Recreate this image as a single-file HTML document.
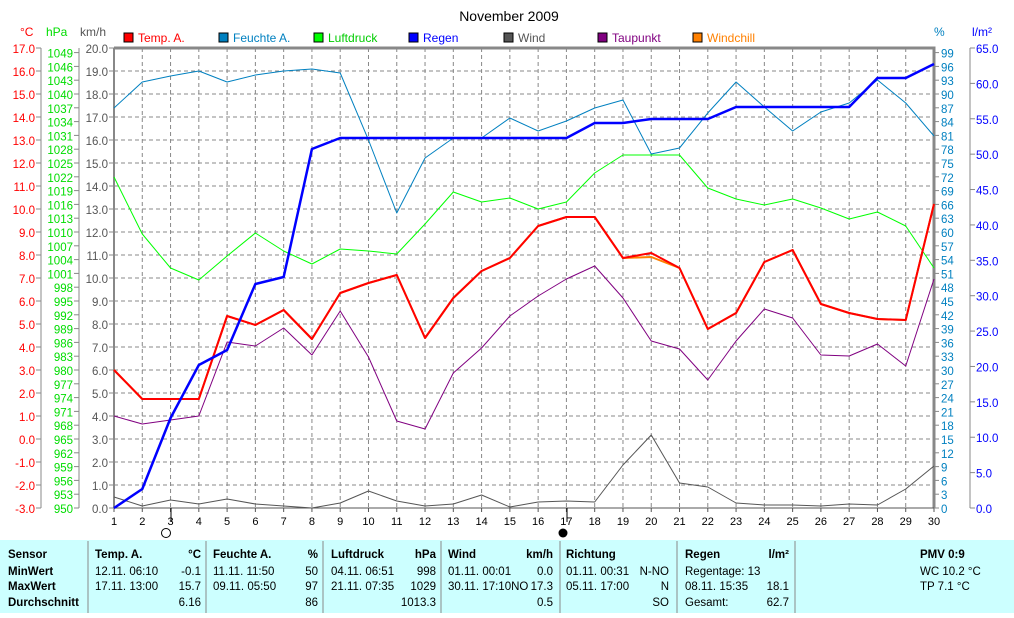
<!DOCTYPE html>
<html><head><meta charset="utf-8"><style>
body{margin:0;background:#fff;width:1014px;height:613px;overflow:hidden;font-family:"Liberation Sans",sans-serif}
svg text{font-family:"Liberation Sans",sans-serif}
</style></head><body>
<svg id="s" width="1014" height="613" xmlns="http://www.w3.org/2000/svg"></svg>
<script>
const s=document.getElementById('s');let h='';
const X=d=>114+(d-1)*820/29;
h+='<rect x="0" y="540" width="1014" height="73" fill="#ccffff"/>';
h+='<text x="509" y="21" font-size="14" text-anchor="middle" fill="#000">November 2009</text>';
for(let d=2;d<30;d++)h+=`<line x1="${X(d)}" y1="48" x2="${X(d)}" y2="508" stroke="#888" stroke-dasharray="4,3"/>`;
for(let i=1;i<20;i++){let y=48+i*23;h+=`<line x1="114" y1="${y}" x2="934" y2="${y}" stroke="#888" stroke-dasharray="4,3"/>`;}
h+='<path d="M114,48H934V508" fill="none" stroke="#888" stroke-width="3"/>';
h+='<line x1="114" y1="48" x2="114" y2="508" stroke="#888" stroke-width="2"/>';
h+='<line x1="114" y1="508" x2="934" y2="508" stroke="#555"/>';
for(let d=1;d<=30;d++){h+=`<line x1="${X(d)}" y1="508" x2="${X(d)}" y2="512" stroke="#555"/><text x="${X(d)}" y="525" font-size="11" text-anchor="middle">${d}</text>`;}
h+='<line x1="171" y1="508" x2="171" y2="522" stroke="#000"/><line x1="567" y1="508" x2="567" y2="522" stroke="#000"/>';
h+='<circle cx="166" cy="533" r="4.5" fill="none" stroke="#000"/><circle cx="563" cy="533" r="4.5" fill="#000"/>';
h+='<line x1="41" y1="48" x2="41" y2="508" stroke="#888"/><line x1="79" y1="48" x2="79" y2="508" stroke="#888"/>';
const F='font-size="11.5"';
for(let i=0;i<=20;i++){let y=48+i*23;
h+=`<line x1="36" y1="${y}" x2="41" y2="${y}" stroke="#888"/><text x="35" y="${y+5}" ${F} fill="#f00" text-anchor="end">${(17-i).toFixed(1)}</text>`;
h+=`<line x1="109" y1="${y}" x2="114" y2="${y}" stroke="#888"/><text x="108" y="${y+5}" ${F} fill="#555" text-anchor="end">${(20-i).toFixed(1)}</text>`;}
for(let p=950;p<=1049;p+=3){let y=508-(p-950)*4.6;
h+=`<line x1="74" y1="${y}" x2="79" y2="${y}" stroke="#888"/><text x="73" y="${y+5}" ${F} fill="#0d0" text-anchor="end">${p}</text>`;}
h+='<line x1="970" y1="48" x2="970" y2="508" stroke="#888"/>';
for(let p=0;p<=99;p+=3){let y=508-p*4.6;
h+=`<line x1="934" y1="${y}" x2="939" y2="${y}" stroke="#888"/><text x="941" y="${y+5}" ${F} fill="#0080c0">${p}</text>`;}
for(let r=0;r<=65;r+=5){let y=508-r*460/65;
h+=`<line x1="970" y1="${y}" x2="975" y2="${y}" stroke="#888"/><text x="976" y="${y+5}" ${F} fill="#00f">${r.toFixed(1)}</text>`;}
h+='<text x="20" y="36" font-size="12" fill="#f00">°C</text><text x="46" y="36" font-size="12" fill="#0d0">hPa</text><text x="80" y="36" font-size="12" fill="#555">km/h</text>';
h+='<text x="934" y="36" font-size="12" fill="#0080c0">%</text><text x="972" y="36" font-size="12" fill="#00f">l/m²</text>';
const lg=[[124,'#f00','Temp. A.'],[219,'#0080c0','Feuchte A.'],[314,'#0f0','Luftdruck'],[409,'#00f','Regen'],[504,'#555','Wind'],[598,'#800080','Taupunkt'],[693,'#ff8000','Windchill']];
for(const[x,c,t]of lg)h+=`<rect x="${x}" y="33" width="9" height="9" fill="${c}" stroke="#000"/><text x="${x+14}" y="42" font-size="12" fill="${c=='#555'?'#555':c=='#0f0'?'#0c0':c}">${t}</text>`;
function line(ys,c,w){h+=`<polyline fill="none" stroke="${c}" stroke-width="${w}" stroke-linejoin="round" points="${ys.map((y,i)=>X(i+1)+','+y).join(' ')}"/>`;}
const temp=[370,399,399,399,316,325,310,339,293,283,275,338,298,271,258,226,217,217,258,253,268,329,313,262,250,304,313,319,320,204];
const wc=temp.slice();wc[19]=257;
line([497,506,500,504,499,504,506,508,503,491,501,506,504,495,507,502,501,502,465,435,483,487,503,505,505,506,504,505,489,466],'#555',1);
line([416,424,420,416,342,346,328,355,311,357,421,429,373,348,316,296,279,266,298,341,349,380,341,309,318,355,356,344,366,279],'#800080',1);
line([177,234,268,280,256,233,251,264,249,251,254,224,192,202,198,209,202,173,155,155,155,188,199,205,199,208,219,212,226,268],'#0f0',1);
line([108,82,76,71,82,75,71,69,73,140,213,158,138,138,118,131,121,108,100,154,148,113,82,107,131,112,103,80,103,136],'#0080c0',1);
line(wc,'#ff8000',2);
line(temp,'#f00',2);
line([508,489,418,365,350,284,277,149,138,138,138,138,138,138,138,138,138,123,123,119,119,119,107,107,107,107,107,78,78,64],'#00f',2.5);
for(const x of [88,206,323,441,560,677,795])h+=`<line x1="${x}" y1="541" x2="${x}" y2="613" stroke="#888"/>`;
const T=(x,y,t,b,a)=>h+=`<text x="${x}" y="${y}" font-size="11.5" ${b?'font-weight="bold"':''} ${a?'text-anchor="end"':''}>${t}</text>`;
const R=[558,575,590,606];
['Sensor','MinWert','MaxWert','Durchschnitt'].forEach((t,i)=>T(8,R[i],t,1));
T(95,R[0],'Temp. A.',1);T(201,R[0],'°C',1,1);T(95,R[1],'12.11.  06:10');T(201,R[1],'-0.1',0,1);T(95,R[2],'17.11.  13:00');T(201,R[2],'15.7',0,1);T(201,R[3],'6.16',0,1);
T(213,R[0],'Feuchte A.',1);T(318,R[0],'%',1,1);T(213,R[1],'11.11.  11:50');T(318,R[1],'50',0,1);T(213,R[2],'09.11.  05:50');T(318,R[2],'97',0,1);T(318,R[3],'86',0,1);
T(331,R[0],'Luftdruck',1);T(436,R[0],'hPa',1,1);T(331,R[1],'04.11.  06:51');T(436,R[1],'998',0,1);T(331,R[2],'21.11.  07:35');T(436,R[2],'1029',0,1);T(436,R[3],'1013.3',0,1);
T(448,R[0],'Wind',1);T(553,R[0],'km/h',1,1);T(448,R[1],'01.11.  00:01');T(553,R[1],'0.0',0,1);T(448,R[2],'30.11.  17:10NO');T(553,R[2],'17.3',0,1);T(553,R[3],'0.5',0,1);
T(566,R[0],'Richtung',1);T(566,R[1],'01.11.  00:31');T(669,R[1],'N-NO',0,1);T(566,R[2],'05.11.  17:00');T(669,R[2],'N',0,1);T(669,R[3],'SO',0,1);
T(685,R[0],'Regen',1);T(789,R[0],'l/m²',1,1);T(685,R[1],'Regentage: 13');T(685,R[2],'08.11.  15:35');T(789,R[2],'18.1',0,1);T(685,R[3],'Gesamt:');T(789,R[3],'62.7',0,1);
T(920,R[0],'PMV 0:9',1);T(920,R[1],'WC 10.2 °C');T(920,R[2],'TP 7.1 °C');
s.innerHTML=h;
</script>
</body></html>
